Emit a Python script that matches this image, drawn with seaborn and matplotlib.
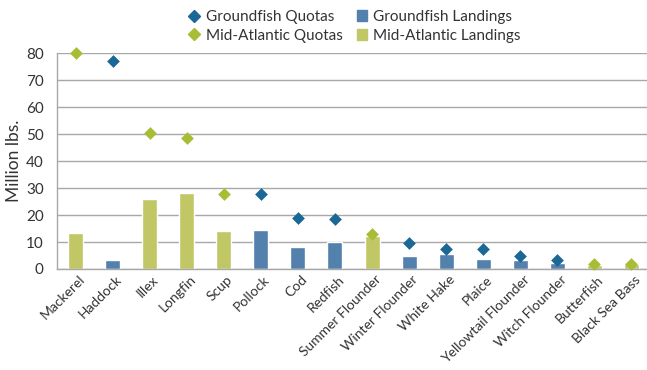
import matplotlib
matplotlib.use("Agg")
import matplotlib.pyplot as plt
import matplotlib.transforms as mtransforms
from matplotlib.lines import Line2D
from matplotlib.patches import Patch
from matplotlib.ticker import FixedLocator
import seaborn as sns
import pandas as pd
import numpy as np

species = ["Mackerel", "Haddock", "Illex", "Longfin", "Scup", "Pollock", "Cod",
           "Redfish", "Summer Flounder", "Winter Flounder", "White Hake", "Plaice",
           "Yellowtail Flounder", "Witch Flounder", "Butterfish", "Black Sea Bass"]
region = ["Mid-Atlantic", "Groundfish", "Mid-Atlantic", "Mid-Atlantic", "Mid-Atlantic",
          "Groundfish", "Groundfish", "Groundfish", "Mid-Atlantic", "Groundfish",
          "Groundfish", "Groundfish", "Groundfish", "Groundfish", "Mid-Atlantic",
          "Mid-Atlantic"]
landings = [13.2, 3.3, 25.9, 28.1, 14.1, 14.6, 8.1, 10.0, 12.2, 4.8, 5.6, 3.7,
            3.3, 2.2, 1.5, 1.8]
quotas = [80.0, 77.0, 50.4, 48.5, 27.9, 27.9, 18.8, 18.4, 12.8, 9.8, 7.4, 7.4,
          4.9, 3.3, 2.0, 1.9]

bar_colors = {"Groundfish": "#5380AC", "Mid-Atlantic": "#C2C765"}
quota_colors = {"Groundfish": "#1B6796", "Mid-Atlantic": "#A8BC35"}

df = pd.DataFrame({"species": species, "region": region,
                   "landings": landings, "quotas": quotas})

sns.set_style("white")
plt.rcParams["font.family"] = ["Lato", "DejaVu Sans"]
text_color = "#333333"
axis_gray = "#A8A8A8"

fig = plt.figure(figsize=(6.47, 3.70), dpi=100)
ax = fig.add_axes([57 / 647, 1 - 269 / 370, 593 / 647, 215.7 / 370])

sns.barplot(data=df, x="species", y="landings", hue="region", dodge=False,
            palette=bar_colors, width=0.405, ax=ax, legend=False, saturation=1)
sns.stripplot(data=df, x="species", y="quotas", hue="region", dodge=False,
              jitter=False, marker="D", size=6.5, palette=quota_colors,
              linewidth=0, ax=ax, legend=False, zorder=5)
for coll in ax.collections:
    coll.set_clip_on(False)

ax.set_xlim(-0.5, len(species) - 0.5)
ax.set_ylim(0, 80)
ax.set_yticks(np.arange(0, 81, 10))
ax.yaxis.grid(True, color=axis_gray, linewidth=1)
ax.set_axisbelow(True)
for s in ["top", "right"]:
    ax.spines[s].set_visible(False)
for s in ["left", "bottom"]:
    ax.spines[s].set_color(axis_gray)
    ax.spines[s].set_linewidth(1)

ax.set_xlabel("")
ax.set_ylabel("Million lbs.", fontsize=12.5, color=text_color, labelpad=3)
ax.tick_params(axis="y", length=3.6, width=1, color=axis_gray, labelsize=11,
               labelcolor=text_color, pad=6)
ax.tick_params(axis="x", which="major", length=0, labelsize=10,
               labelcolor=text_color, pad=3)
ax.set_xticks(range(len(species)))
ax.set_xticklabels(species, rotation=45, ha="right", rotation_mode="anchor")
shift = mtransforms.ScaledTranslation(2 / 72, 0, fig.dpi_scale_trans)
for lbl in ax.get_xticklabels():
    lbl.set_transform(lbl.get_transform() + shift)
ax.xaxis.set_minor_locator(FixedLocator(np.arange(-0.5, len(species), 1.0)))
ax.tick_params(axis="x", which="minor", length=3, color=axis_gray, width=1)

handles = [
    Line2D([], [], marker="D", linestyle="none", color=quota_colors["Groundfish"],
           markersize=6.5, label="Groundfish Quotas"),
    Line2D([], [], marker="D", linestyle="none", color=quota_colors["Mid-Atlantic"],
           markersize=6.5, label="Mid-Atlantic Quotas"),
    Patch(color=bar_colors["Groundfish"], label="Groundfish Landings"),
    Patch(color=bar_colors["Mid-Atlantic"], label="Mid-Atlantic Landings"),
]
leg = fig.legend(handles=handles, ncol=2, loc="upper center",
                 bbox_to_anchor=(355 / 647, 1.0), frameon=False, fontsize=11,
                 handlelength=0.7, handleheight=0.7, handletextpad=0.4,
                 columnspacing=0.9, labelspacing=0.3, borderaxespad=0.25)
for t in leg.get_texts():
    t.set_color(text_color)

fig.savefig("out.png", dpi=100)
